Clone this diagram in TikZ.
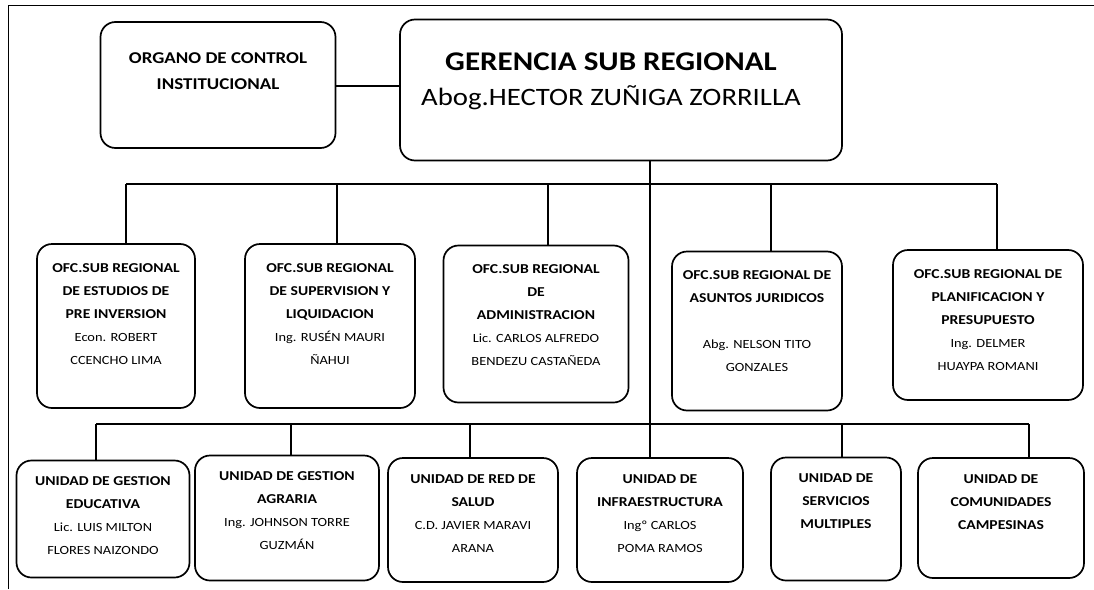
\documentclass[tikz,border=0pt]{standalone}
\usepackage{fontspec}
\setmainfont{Carlito}[FakeStretch=1.15]
\usetikzlibrary{positioning,calc}
\tikzset{
  %% Boxes of the chart
  orgBox/.style={draw=black, line width=1.7pt, rounded corners=15pt,
    minimum width=170pt, minimum height=160pt, inner sep=0pt},
  %% Texts inside the boxes (head lines bold)
  orgTxt/.style={font=\fontsize{13.6}{23}\selectfont\bfseries, align=center,
    inner sep=0pt, text=black},
  topTxt/.style={font=\fontsize{16.5}{26}\selectfont\bfseries, align=center,
    inner sep=0pt},
  gerTxt/.style={font=\fontsize{27}{35}\selectfont\bfseries, align=center,
    inner sep=0pt},
  %% Connectors
  orgLink/.style={line width=1.1pt},
}
\newcommand{\nm}[1]{{\mdseries\fontsize{12.5}{23}\selectfont #1}}
\newcommand{\gnm}[1]{{\mdseries\fontsize{25}{35}\selectfont #1}}

\begin{document}
\begin{tikzpicture}[x=1pt, y=-1pt]
\useasboundingbox (0,0) rectangle (1094,589);
%% Frame
\draw[line width=0.9pt] (8,589) -- (8,5) -- (1094,5);

%% Top level
\node[orgBox, minimum width=235pt, minimum height=126pt] (oci) at (218,85) {};
\node[orgBox, minimum width=442pt, minimum height=141pt] (gsr) at (621,90) {};
\node[topTxt, below=31pt of oci.north] {ORGANO DE CONTROL\\INSTITUCIONAL};
\node[gerTxt, below=34pt of gsr.north, xshift=-10pt] {GERENCIA SUB REGIONAL\\\gnm{Abog.HECTOR ZUÑIGA ZORRILLA}};

%% Oficinas sub regionales
\node[orgBox, minimum width=158pt, minimum height=164pt] (oEst)  at (116,326) {};
\node[orgBox, minimum width=170pt, minimum height=164pt] (oSup)  at (330,326) {};
\node[orgBox, minimum width=185pt, minimum height=157pt] (oAdm)  at (536,324) {};
\node[orgBox, minimum width=170pt, minimum height=159pt] (oJur)  at (757,331) {};
\node[orgBox, minimum width=190pt, minimum height=150pt] (oPlan) at (988,325) {};

\node[orgTxt, below=20pt of oEst.north]  {OFC.SUB REGIONAL\\DE ESTUDIOS DE\\PRE INVERSION\\\nm{Econ. ROBERT}\\\nm{CCENCHO LIMA}};
\node[orgTxt, below=20pt of oSup.north]  {OFC.SUB REGIONAL\\DE SUPERVISION Y\\LIQUIDACION\\\nm{Ing. RUSÉN MAURI}\\\nm{ÑAHUI}};
\node[orgTxt, below=20pt of oAdm.north]  {OFC.SUB REGIONAL\\DE\\ADMINISTRACION\\\nm{Lic. CARLOS ALFREDO}\\\nm{BENDEZU CASTAÑEDA}};
\node[orgTxt, below=20pt of oJur.north]  {OFC.SUB REGIONAL DE\\ASUNTOS JURIDICOS\\[23pt]\nm{Abg. NELSON TITO}\\\nm{GONZALES}};
\node[orgTxt, below=20pt of oPlan.north] {OFC.SUB REGIONAL DE\\PLANIFICACION Y\\PRESUPUESTO\\\nm{Ing. DELMER}\\\nm{HUAYPA ROMANI}};

%% Unidades
\node[orgBox, minimum width=173pt, minimum height=117pt] (uEdu) at (103,519) {};
\node[orgBox, minimum width=184pt, minimum height=125pt] (uAgr) at (287,518) {};
\node[orgBox, minimum width=170pt, minimum height=124pt] (uSal) at (473,520) {};
\node[orgBox, minimum width=166pt, minimum height=124pt] (uInf) at (660,520) {};
\node[orgBox, minimum width=130pt, minimum height=123pt] (uSer) at (836,519) {};
\node[orgBox, minimum width=166pt, minimum height=120pt] (uCom) at (1001,518) {};

\node[orgTxt, below=17pt of uEdu.north] {UNIDAD DE GESTION\\EDUCATIVA\\\nm{Lic. LUIS MILTON}\\\nm{FLORES NAIZONDO}};
\node[orgTxt, below=17pt of uAgr.north] {UNIDAD DE GESTION\\AGRARIA\\\nm{Ing. JOHNSON TORRE}\\\nm{GUZMÁN}};
\node[orgTxt, below=17pt of uSal.north] {UNIDAD DE RED DE\\SALUD\\\nm{C.D. JAVIER MARAVI}\\\nm{ARANA}};
\node[orgTxt, below=17pt of uInf.north] {UNIDAD DE\\INFRAESTRUCTURA\\\nm{Ingº CARLOS}\\\nm{POMA RAMOS}};
\node[orgTxt, below=17pt of uSer.north] {UNIDAD DE\\SERVICIOS\\MULTIPLES};
\node[orgTxt, below=17pt of uCom.north] {UNIDAD DE\\COMUNIDADES\\CAMPESINAS};

%% Connectors (drops sit a little off the box centres)
\coordinate (busTop) at (0,184);
\coordinate (busLow) at (0,424);
\draw[orgLink] (oci.east |- 0,86) -- (gsr.west |- 0,86);
\draw[orgLink] ([xshift=-10pt]uInf.north |- gsr.south) -- ([xshift=-10pt]uInf.north);
\draw[orgLink] ([xshift=10pt]oEst.north |- busTop) -- ([xshift=9pt]oPlan.north |- busTop);
\foreach \b/\d in {oEst/10,oSup/7,oAdm/12,oJur/14,oPlan/9}
  \draw[orgLink] ([xshift=\d pt]\b.north |- busTop) -- ([xshift=\d pt]\b.north);
\draw[orgLink] ([xshift=-7pt]uEdu.north |- busLow) -- ([xshift=28pt]uCom.north |- busLow);
\foreach \b/\d in {uEdu/-7,uAgr/4,uSal/-3,uSer/6,uCom/28}
  \draw[orgLink] ([xshift=\d pt]\b.north |- busLow) -- ([xshift=\d pt]\b.north);

\end{tikzpicture}
\end{document}
